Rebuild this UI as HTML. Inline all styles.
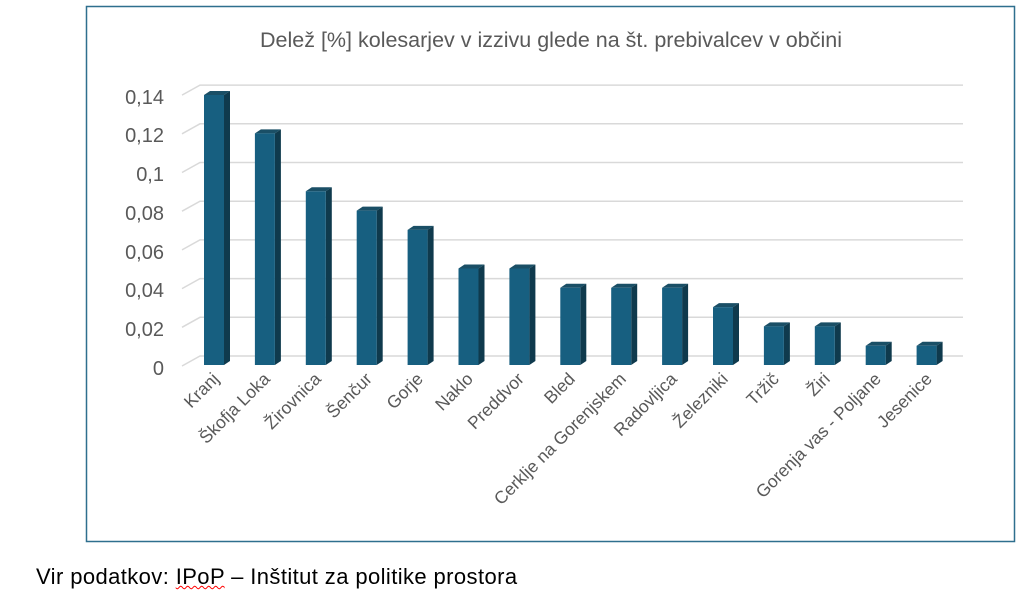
<!DOCTYPE html><html><head><style>body{margin:0;background:#fff;width:1024px;height:594px;overflow:hidden;font-family:"Liberation Sans",sans-serif}</style></head><body>
<svg width="1024" height="594" style="position:absolute;left:0;top:0" font-family="Liberation Sans, sans-serif">
<rect x="86.5" y="6.5" width="928" height="535" fill="#fff" stroke="#2e6f8e" stroke-width="1.5"/>
<text x="551" y="47" text-anchor="middle" font-size="21.5" fill="#595959">Delež [%] kolesarjev v izzivu glede na št. prebivalcev v občini</text>
<g stroke="#d9d9d9" stroke-width="1.5" fill="none">
<polyline points="182,366 200,356 963,356"/><polyline points="182,327.3 200,317.3 963,317.3"/><polyline points="182,288.6 200,278.6 963,278.6"/><polyline points="182,249.9 200,239.9 963,239.9"/><polyline points="182,211.2 200,201.2 963,201.2"/><polyline points="182,172.5 200,162.5 963,162.5"/><polyline points="182,133.8 200,123.8 963,123.8"/><polyline points="182,95.1 200,85.1 963,85.1"/>
</g>
<g font-size="20" fill="#595959" text-anchor="end">
<text x="164" y="375">0</text><text x="164" y="336">0,02</text><text x="164" y="297">0,04</text><text x="164" y="259">0,06</text><text x="164" y="220">0,08</text><text x="164" y="181">0,1</text><text x="164" y="142">0,12</text><text x="164" y="104">0,14</text>
</g>
<g>
<path d="M204,95 l6,-4 h20 l-6,4z M254.9,133.4 l6,-4 h20 l-6,4z M305.8,191.3 l6,-4 h20 l-6,4z M356.7,210.6 l6,-4 h20 l-6,4z M407.6,229.9 l6,-4 h20 l-6,4z M458.5,268.5 l6,-4 h20 l-6,4z M509.4,268.5 l6,-4 h20 l-6,4z M560.3,287.8 l6,-4 h20 l-6,4z M611.2,287.8 l6,-4 h20 l-6,4z M662.1,287.8 l6,-4 h20 l-6,4z M713,307.1 l6,-4 h20 l-6,4z M763.9,326.4 l6,-4 h20 l-6,4z M814.8,326.4 l6,-4 h20 l-6,4z M865.7,345.7 l6,-4 h20 l-6,4z M916.6,345.7 l6,-4 h20 l-6,4z" fill="#1a4f66"/>
<path d="M224,95 l6,-4 V361 l-6,4z M274.9,133.4 l6,-4 V361 l-6,4z M325.8,191.3 l6,-4 V361 l-6,4z M376.7,210.6 l6,-4 V361 l-6,4z M427.6,229.9 l6,-4 V361 l-6,4z M478.5,268.5 l6,-4 V361 l-6,4z M529.4,268.5 l6,-4 V361 l-6,4z M580.3,287.8 l6,-4 V361 l-6,4z M631.2,287.8 l6,-4 V361 l-6,4z M682.1,287.8 l6,-4 V361 l-6,4z M733,307.1 l6,-4 V361 l-6,4z M783.9,326.4 l6,-4 V361 l-6,4z M834.8,326.4 l6,-4 V361 l-6,4z M885.7,345.7 l6,-4 V361 l-6,4z M936.6,345.7 l6,-4 V361 l-6,4z" fill="#0f3a4d"/>
<path d="M204,95 h20 V365 h-20z M254.9,133.4 h20 V365 h-20z M305.8,191.3 h20 V365 h-20z M356.7,210.6 h20 V365 h-20z M407.6,229.9 h20 V365 h-20z M458.5,268.5 h20 V365 h-20z M509.4,268.5 h20 V365 h-20z M560.3,287.8 h20 V365 h-20z M611.2,287.8 h20 V365 h-20z M662.1,287.8 h20 V365 h-20z M713,307.1 h20 V365 h-20z M763.9,326.4 h20 V365 h-20z M814.8,326.4 h20 V365 h-20z M865.7,345.7 h20 V365 h-20z M916.6,345.7 h20 V365 h-20z" fill="#175f80"/>
</g>
<g font-size="17.5" fill="#595959" text-anchor="end">
<text transform="translate(220,380) rotate(-45)">Kranj</text>
<text transform="translate(271,380) rotate(-45)">Škofja Loka</text>
<text transform="translate(322,380) rotate(-45)">Žirovnica</text>
<text transform="translate(373,380) rotate(-45)">Šenčur</text>
<text transform="translate(424,380) rotate(-45)">Gorje</text>
<text transform="translate(474,380) rotate(-45)">Naklo</text>
<text transform="translate(525,380) rotate(-45)">Preddvor</text>
<text transform="translate(576,380) rotate(-45)">Bled</text>
<text transform="translate(627,380) rotate(-45)">Cerklje na Gorenjskem</text>
<text transform="translate(678,380) rotate(-45)">Radovljica</text>
<text transform="translate(729,380) rotate(-45)">Železniki</text>
<text transform="translate(780,380) rotate(-45)">Tržič</text>
<text transform="translate(831,380) rotate(-45)">Žiri</text>
<text transform="translate(882,380) rotate(-45)">Gorenja vas - Poljane</text>
<text transform="translate(933,380) rotate(-45)">Jesenice</text>
</g>
</svg>
<div style="position:absolute;left:36px;top:564px;font-size:22px;letter-spacing:0.4px;color:#000;white-space:nowrap">Vir podatkov: <span style="text-decoration:underline wavy red;text-decoration-thickness:1px">IPoP</span> – Inštitut za politike prostora</div>
</body></html>
